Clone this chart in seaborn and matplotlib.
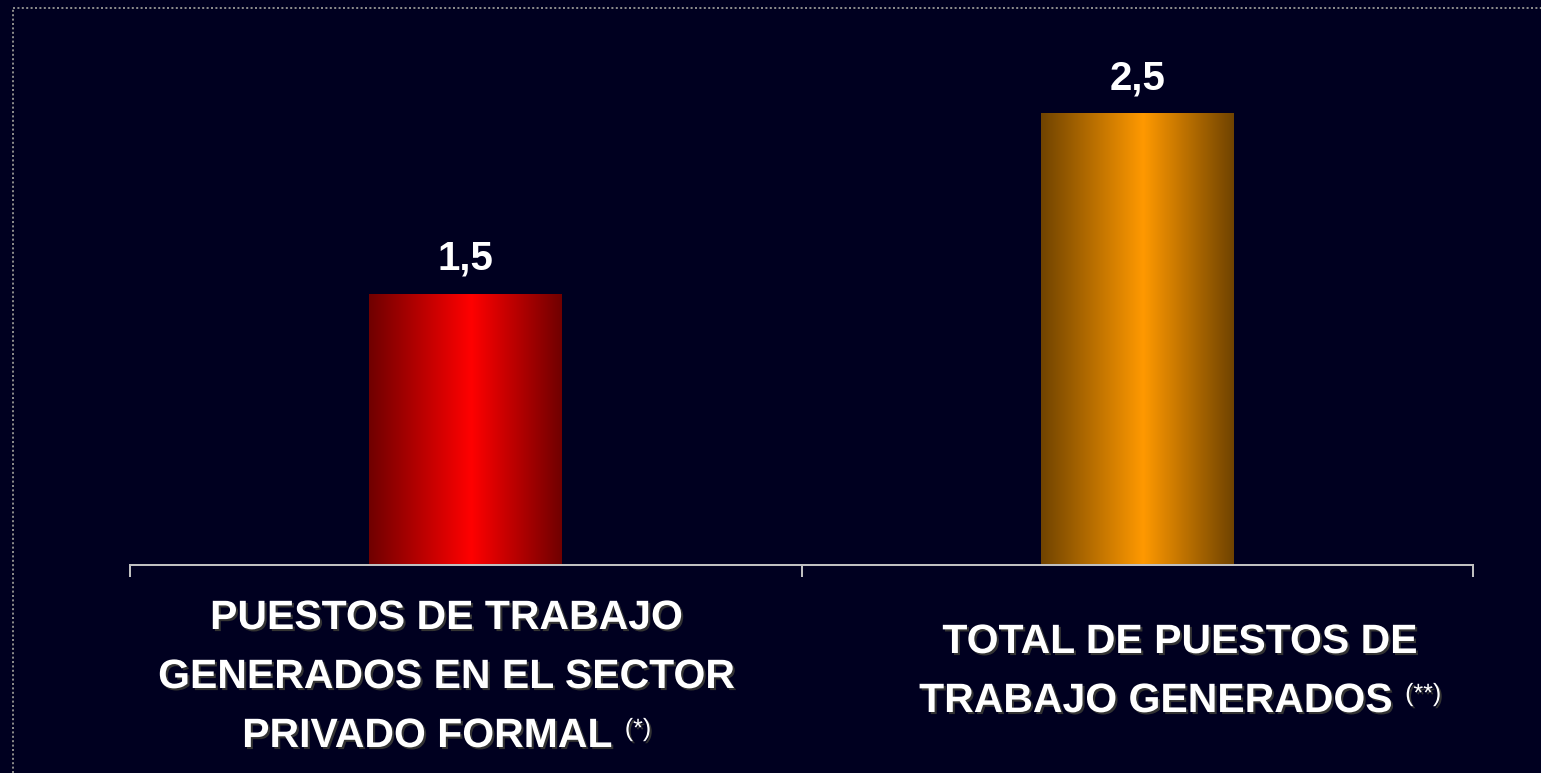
import numpy as np
import pandas as pd
import seaborn as sns
import matplotlib.pyplot as plt
import matplotlib.patheffects as pe
from matplotlib.colors import to_rgb
from matplotlib.lines import Line2D

# Data
categories = ['Sector privado formal', 'Total']
values = [1.5, 2.5]
value_labels = ['1,5', '2,5']
label_lines = [['PUESTOS DE TRABAJO', 'GENERADOS EN EL SECTOR', 'PRIVADO FORMAL'],
               ['TOTAL DE PUESTOS DE', 'TRABAJO GENERADOS']]
footnotes = ['(*)', '(**)']
bar_colors = ['#ff0000', '#ff9900']

bg = '#000020'
DPI = 100
px = 72 / DPI  # points per pixel

sns.set_theme(style='white')
plt.rcParams['font.family'] = ['Liberation Sans', 'DejaVu Sans']

fig = plt.figure(figsize=(15.41, 7.73), dpi=DPI, facecolor=bg)
ax = fig.add_axes([130 / 1541, (773 - 565) / 773, 1343 / 1541, 555 / 773])
ax.set_facecolor(bg)

df = pd.DataFrame({'categoria': categories, 'valor': values})
sns.barplot(data=df, x='categoria', y='valor', hue='categoria', palette=bar_colors,
            width=0.287, saturation=1, legend=False, linewidth=0, ax=ax)

# horizontal gradient on each bar (dark edges, bright middle, peak a bit right of centre)
t = np.linspace(0, 1, 256)
peak = 0.53
tri = np.where(t < peak, t / peak, (1 - t) / (1 - peak))
shade = 0.44 + 0.56 * tri
for cont, c in zip(ax.containers, bar_colors):
    patch = cont[0]
    x0, y0 = patch.get_x(), patch.get_y()
    w, h = patch.get_width(), patch.get_height()
    img = np.array(to_rgb(c))[None, None, :] * shade[None, :, None]
    im = ax.imshow(img, extent=(x0, x0 + w, y0, y0 + h), aspect='auto',
                   interpolation='bilinear', zorder=patch.get_zorder() + 0.1)
    im.set_clip_path(patch)

ax.set_xlim(-0.5, 1.5)
ax.set_ylim(0, 555 / 180.7)

# value labels
for i, (v, lab) in enumerate(zip(values, value_labels)):
    ax.annotate(lab, xy=(i, v), xytext=(0, 24 * px), textcoords='offset points',
                ha='center', va='baseline', fontsize=29, fontweight='bold', color='white')

# axis styling
for s in ['top', 'right', 'left']:
    ax.spines[s].set_visible(False)
ax.spines['bottom'].set_color('#c0c0c0')
ax.spines['bottom'].set_linewidth(1.45)
ax.set_xticks([-0.5, 0.5, 1.5], labels=['', '', ''])
ax.set_yticks([])
ax.tick_params(axis='x', bottom=True, length=12 * px, width=1.45, color='#c0c0c0', direction='out')
ax.set_xlabel('')
ax.set_ylabel('')

# category labels, one line at a time
shadow = [pe.withSimplePatchShadow(offset=(1.5, -1.5), shadow_rgbFace='#333333', alpha=1)]
label_dx = [-19, 43]
first_base = [64, 88]
line_gap = 59

fig.canvas.draw()
r = fig.canvas.get_renderer()
for i, lines in enumerate(label_lines):
    for k, line in enumerate(lines):
        y_off = -(first_base[i] + k * line_gap) * px
        last = k == len(lines) - 1
        main = ax.annotate(line, xy=(i, 0), xycoords=('data', 'axes fraction'),
                           xytext=(label_dx[i] * px, y_off), textcoords='offset points',
                           ha='left' if last else 'center', va='baseline',
                           fontsize=29.5, fontweight='bold', color='white', path_effects=shadow)
        if last:
            sup = ax.annotate(footnotes[i], xy=(i, 0), xycoords=('data', 'axes fraction'),
                              xytext=(0, y_off + 11 * px), textcoords='offset points',
                              ha='left', va='baseline', fontsize=18, color='white',
                              path_effects=shadow)
            w_main = main.get_window_extent(r).width
            w_sup = sup.get_window_extent(r).width
            gap = 12
            left = label_dx[i] - (w_main + gap + w_sup) / 2
            main.set_position((left * px, y_off))
            sup.set_position(((left + w_main + gap) * px, y_off + 11 * px))

# dotted frame at top-left
fx = 13 / 1541
fy = 1 - 8 / 773
fig.add_artist(Line2D([fx, fx], [0, fy], transform=fig.transFigure, color='#8a8a8a',
                      lw=1.44, linestyle=(0, (1, 1.2))))
fig.add_artist(Line2D([fx, 1], [fy, fy], transform=fig.transFigure, color='#8a8a8a',
                      lw=1.44, linestyle=(0, (1, 1.2))))

fig.savefig('out.png', dpi=DPI, facecolor=bg)
